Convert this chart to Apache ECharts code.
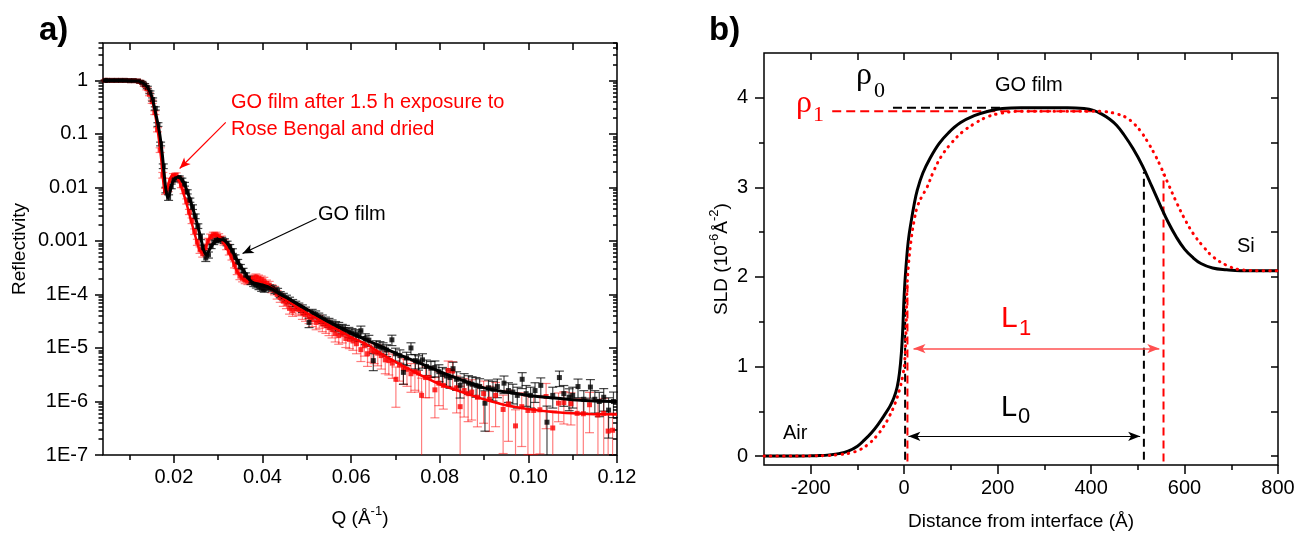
<!DOCTYPE html>
<html><head><meta charset="utf-8">
<script src="https://cdn.jsdelivr.net/npm/echarts@6/dist/echarts.min.js"></script>
<style>html,body{margin:0;padding:0;background:#fff}#c{width:1299px;height:535px}</style>
</head><body><div id="c"></div>
<script>
// ================= Panel a) : reflectivity =================
const qTicks = [0.02, 0.04, 0.06, 0.08, 0.10, 0.12];
const qTickLabels = ['0.02', '0.04', '0.06', '0.08', '0.10', '0.12'];
const qMinorTicks = [0.01, 0.03, 0.05, 0.07, 0.09, 0.11];
const rTicks = [1e-7, 1e-6, 1e-5, 1e-4, 1e-3, 1e-2, 1e-1, 1];
const rTickLabels = ['1E-7', '1E-6', '1E-5', '1E-4', '0.001', '0.01', '0.1', '1'];

// fitted curves [Q, R]
const goFit = [[0.004,1],[0.008,1],[0.011,0.99],[0.012,0.97],[0.013,0.9],[0.014,0.75],[0.015,0.5],[0.016,0.22],[0.0168,0.1],[0.0174,0.04],[0.0178,0.018],[0.0182,0.009],[0.0186,0.0065],[0.019,0.0075],[0.0195,0.011],[0.020,0.014],[0.0208,0.0155],[0.0215,0.015],[0.0222,0.0125],[0.023,0.0085],[0.024,0.0048],[0.025,0.0025],[0.026,0.0012],[0.0268,0.00065],[0.0274,0.00055],[0.028,0.00068],[0.029,0.00092],[0.030,0.00106],[0.031,0.00105],[0.032,0.00092],[0.033,0.0007],[0.034,0.00048],[0.035,0.00034],[0.036,0.00026],[0.037,0.00019],[0.038,0.000165],[0.040,0.00015],[0.042,0.00013],[0.044,0.0001],[0.046,0.000082],[0.048,0.000066],[0.050,0.000053],[0.053,0.000038],[0.056,0.000028],[0.060,0.000019],[0.064,0.0000135],[0.068,0.0000095],[0.072,0.0000068],[0.076,0.000005],[0.080,0.0000036],[0.085,0.0000025],[0.090,0.0000018],[0.095,0.0000015],[0.100,0.0000013],[0.105,0.00000118],[0.110,0.00000108],[0.115,0.00000102],[0.120,0.000001]];
const rbFit = [[0.004,1],[0.008,1],[0.011,0.99],[0.012,0.97],[0.013,0.9],[0.014,0.72],[0.015,0.45],[0.016,0.18],[0.0167,0.07],[0.0172,0.03],[0.0176,0.013],[0.018,0.008],[0.0185,0.0095],[0.019,0.0135],[0.0197,0.017],[0.0205,0.0165],[0.0212,0.013],[0.022,0.0085],[0.023,0.0045],[0.024,0.0022],[0.025,0.0011],[0.0258,0.00068],[0.0265,0.0006],[0.0272,0.00078],[0.028,0.0011],[0.029,0.0013],[0.030,0.00125],[0.031,0.001],[0.032,0.00072],[0.033,0.00048],[0.034,0.0003],[0.035,0.00022],[0.036,0.000185],[0.038,0.00018],[0.040,0.00017],[0.042,0.000135],[0.044,0.000095],[0.046,0.000072],[0.048,0.000056],[0.050,0.000045],[0.053,0.000033],[0.056,0.000024],[0.060,0.000016],[0.064,0.000011],[0.068,0.0000068],[0.072,0.0000045],[0.076,0.000003],[0.080,0.0000021],[0.085,0.0000015],[0.090,0.0000011],[0.095,0.00000085],[0.100,0.00000072],[0.105,0.00000064],[0.110,0.0000006],[0.115,0.00000058],[0.120,0.00000057]];

// measured points [Q, R, relative error]
const goPoints = [[0.0045,1,0.02],[0.005,1,0.02],[0.006,1,0.02],[0.007,1,0.02],[0.008,1,0.02],[0.009,1,0.02],[0.010,0.99,0.02],[0.011,0.99,0.02],[0.012,0.97,0.03],[0.0128,0.92,0.04],[0.0134,0.83,0.05],[0.0140,0.74,0.05],[0.0146,0.6,0.06],[0.0152,0.44,0.07],[0.0158,0.3,0.07],[0.0164,0.15,0.08],[0.0170,0.065,0.08],[0.0176,0.025,0.1],[0.0182,0.009,0.12],[0.0188,0.0065,0.12],[0.0194,0.0105,0.1],[0.0200,0.0138,0.08],[0.0206,0.0152,0.08],[0.0212,0.0152,0.08],[0.0218,0.0138,0.08],[0.0224,0.0115,0.08],[0.0230,0.0083,0.09],[0.0236,0.0058,0.09],[0.0242,0.0043,0.1],[0.0248,0.0029,0.1],[0.0254,0.0019,0.1],[0.0260,0.0012,0.12],[0.0266,0.00075,0.12],[0.0272,0.00048,0.14],[0.0278,0.00055,0.13],[0.0284,0.0008,0.1],[0.0290,0.00095,0.1],[0.0296,0.00102,0.1],[0.0302,0.00108,0.1],[0.0308,0.00106,0.1],[0.0314,0.001,0.1],[0.0320,0.0009,0.1],[0.0326,0.00078,0.1],[0.0332,0.00065,0.1],[0.0338,0.0005,0.1],[0.0344,0.00041,0.1],[0.0350,0.00033,0.1],[0.0356,0.00028,0.1],[0.0362,0.00023,0.1],[0.0368,0.0002,0.1],[0.0374,0.00017,0.1],[0.0380,0.00016,0.12],[0.0386,0.00015,0.12],[0.0392,0.00014,0.12],[0.0398,0.00013,0.12],[0.0404,0.000125,0.12],[0.0410,0.00014,0.12],[0.0416,0.000135,0.12],[0.0422,0.00013,0.12],[0.0428,0.00012,0.13],[0.0434,0.000115,0.13],[0.0440,0.0001,0.13],[0.0447,0.000092,0.14],[0.0454,0.000085,0.14],[0.0461,0.000078,0.14],[0.0468,0.00007,0.15],[0.0475,0.000065,0.15],[0.0482,0.00006,0.15],[0.0490,0.000055,0.16],[0.0497,0.00005,0.16],[0.0505,0.00003,0.2],[0.0512,0.000045,0.17],[0.0520,0.000042,0.17],[0.0527,0.000038,0.18],[0.0535,0.000035,0.18],[0.0542,0.000032,0.18],[0.0550,0.00003,0.19],[0.0557,0.000028,0.19],[0.0565,0.000026,0.2],[0.0572,0.000025,0.2],[0.0580,0.000023,0.2],[0.0587,0.000022,0.2],[0.0595,0.00002,0.21],[0.0602,0.000019,0.21],[0.0610,0.000018,0.22],[0.0617,0.000017,0.22],[0.0622,0.000021,0.22],[0.0632,0.000015,0.23],[0.0640,0.000014,0.23],[0.0650,0.0000058,0.35],[0.0657,0.000011,0.24],[0.0665,0.0000105,0.25],[0.0672,0.00001,0.25],[0.0680,0.0000092,0.25],[0.0692,0.0000142,0.22],[0.0700,0.0000078,0.27],[0.0710,0.0000072,0.28],[0.0718,0.0000035,0.4],[0.0725,0.0000065,0.28],[0.0735,0.00001,0.25],[0.0745,0.0000058,0.3],[0.0752,0.0000055,0.3],[0.0761,0.000006,0.3],[0.0770,0.0000045,0.32],[0.0780,0.0000042,0.33],[0.0789,0.0000043,0.33],[0.0798,0.0000036,0.35],[0.0806,0.0000032,0.35],[0.0815,0.000003,0.36],[0.0823,0.0000028,0.37],[0.0830,0.0000041,0.32],[0.0838,0.0000026,0.38],[0.0846,0.000002,0.42],[0.0855,0.0000024,0.38],[0.0865,0.0000022,0.38],[0.0873,0.0000021,0.38],[0.0882,0.000002,0.4],[0.0890,0.0000019,0.4],[0.0902,0.00000093,0.7],[0.0910,0.0000018,0.4],[0.0920,0.0000017,0.4],[0.0930,0.0000019,0.38],[0.0945,0.0000022,0.36],[0.0955,0.0000016,0.4],[0.0965,0.0000015,0.4],[0.0975,0.0000013,0.42],[0.0986,0.0000026,0.33],[0.0995,0.0000014,0.42],[0.1005,0.0000013,0.42],[0.1015,0.0000016,0.4],[0.1028,0.000002,0.38],[0.1042,0.00000041,1.0],[0.1055,0.0000013,0.42],[0.1070,0.0000028,0.32],[0.1080,0.0000014,0.42],[0.1092,0.0000012,0.44],[0.1100,0.0000013,0.42],[0.1112,0.0000019,0.38],[0.1125,0.0000011,0.45],[0.1140,0.00000186,0.38],[0.1150,0.0000011,0.45],[0.1160,0.000001,0.48],[0.1170,0.0000012,0.45],[0.1181,0.00000069,0.7],[0.1192,0.000001,0.5]];
const rbPoints = [[0.0045,1,0.02],[0.005,1,0.02],[0.006,1,0.02],[0.007,1,0.02],[0.008,1,0.02],[0.009,1,0.02],[0.010,0.99,0.02],[0.011,0.99,0.02],[0.012,0.97,0.03],[0.0127,0.92,0.04],[0.0133,0.82,0.05],[0.0139,0.7,0.05],[0.0145,0.55,0.06],[0.0151,0.4,0.07],[0.0157,0.25,0.08],[0.0163,0.12,0.09],[0.0169,0.05,0.1],[0.0175,0.017,0.12],[0.0181,0.0085,0.13],[0.0187,0.0095,0.12],[0.0193,0.0135,0.1],[0.0199,0.0165,0.1],[0.0205,0.017,0.1],[0.0211,0.0145,0.1],[0.0217,0.011,0.1],[0.0223,0.0085,0.1],[0.0229,0.0055,0.11],[0.0235,0.0035,0.11],[0.0241,0.0024,0.12],[0.0247,0.0015,0.12],[0.0253,0.00095,0.13],[0.0259,0.00068,0.14],[0.0265,0.00058,0.14],[0.0271,0.00075,0.13],[0.0277,0.001,0.12],[0.0283,0.0012,0.12],[0.0289,0.0013,0.12],[0.0295,0.0013,0.12],[0.0301,0.00122,0.12],[0.0307,0.0011,0.12],[0.0313,0.00095,0.12],[0.0319,0.00078,0.12],[0.0325,0.00062,0.12],[0.0331,0.0005,0.12],[0.0337,0.00036,0.13],[0.0343,0.00027,0.13],[0.0349,0.00022,0.14],[0.0355,0.0002,0.14],[0.0361,0.000185,0.14],[0.0367,0.00018,0.15],[0.0373,0.00019,0.15],[0.0379,0.0002,0.15],[0.0385,0.00021,0.15],[0.0391,0.0002,0.15],[0.0397,0.00019,0.16],[0.0403,0.00018,0.16],[0.0409,0.00016,0.16],[0.0415,0.00015,0.17],[0.0421,0.00013,0.17],[0.0427,0.00012,0.18],[0.0433,0.0001,0.18],[0.0440,0.000088,0.19],[0.0447,0.000075,0.2],[0.0454,0.000068,0.2],[0.0461,0.000055,0.22],[0.0468,0.00005,0.22],[0.0475,0.000055,0.22],[0.0482,0.000052,0.23],[0.0490,0.000045,0.24],[0.0497,0.000042,0.25],[0.0505,0.000038,0.25],[0.0512,0.000034,0.26],[0.0521,0.00003,0.27],[0.0528,0.000032,0.27],[0.0535,0.000028,0.28],[0.0543,0.000026,0.28],[0.0550,0.000024,0.29],[0.0557,0.000022,0.3],[0.0564,0.0000185,0.3],[0.0572,0.000017,0.31],[0.0580,0.000018,0.31],[0.0588,0.000015,0.32],[0.0596,0.0000145,0.33],[0.0604,0.0000135,0.33],[0.0612,0.000012,0.35],[0.0622,0.0000093,0.4],[0.0630,0.000011,0.36],[0.0637,0.0000078,0.42],[0.0645,0.000009,0.4],[0.0652,0.0000085,0.4],[0.0660,0.000008,0.42],[0.0668,0.0000072,0.44],[0.0677,0.000006,0.45],[0.0685,0.0000058,0.46],[0.0693,0.0000052,0.48],[0.0701,0.0000026,0.7],[0.0709,0.0000048,0.5],[0.0718,0.0000042,0.5],[0.0726,0.000004,0.52],[0.0735,0.0000033,0.55],[0.0744,0.0000036,0.55],[0.0752,0.0000034,0.56],[0.0759,0.0000013,1.1],[0.0768,0.0000028,0.58],[0.0776,0.0000028,0.58],[0.0789,0.00000165,0.7],[0.0798,0.0000022,0.62],[0.0808,0.000002,0.64],[0.0819,0.0000038,0.5],[0.0829,0.0000037,0.5],[0.0838,0.0000018,0.66],[0.0846,0.0000008,1.4],[0.0855,0.0000016,0.68],[0.0864,0.0000014,0.7],[0.0872,0.0000015,0.7],[0.0885,0.0000012,0.72],[0.0899,0.0000014,0.72],[0.0912,0.0000011,0.75],[0.0926,0.0000013,0.74],[0.0943,0.00000071,0.85],[0.0955,0.0000009,0.8],[0.0971,0.00000035,1.0],[0.0985,0.0000008,0.82],[0.0999,0.00000068,0.85],[0.1012,0.00000068,0.85],[0.1026,0.0000007,0.85],[0.1040,0.00000124,0.75],[0.1055,0.00000032,1.1],[0.1068,0.00000093,0.55],[0.1080,0.00000095,0.6],[0.1096,0.00000091,0.6],[0.1110,0.0000006,0.88],[0.1124,0.00000059,0.88],[0.1138,0.00000087,0.7],[0.1157,0.00000056,0.9],[0.1170,0.0000006,0.9],[0.1180,0.00000028,1.1],[0.1190,0.00000029,1.1]];

// annotation arrows (tail -> head) in data coordinates
const rbArrow = [[0.0317, 0.164], [0.0213, 0.0226]];
const goArrow = [[0.0522, 0.00263], [0.0355, 0.000584]];

// ================= Panel b) : SLD profile =================
const dTicks = [-200, 0, 200, 400, 600, 800];
const dTickLabels = ['-200', '0', '200', '400', '600', '800'];
const dMinorTicks = [-100, 100, 300, 500, 700];
const dTopTicks = [-200, -100, 0, 100, 200, 300, 400, 500, 600, 700];
const sTicks = [0, 1, 2, 3, 4];
const sTickLabels = ['0', '1', '2', '3', '4'];
const sMinorTicks = [0.5, 1.5, 2.5, 3.5];
const sRightTicks = [0, 0.5, 1, 1.5, 2, 2.5, 3, 3.5, 4];

const goSLD = [[-300,0],[-250,0],[-200,0.002],[-180,0.005],[-160,0.013],[-140,0.027],[-120,0.055],[-100,0.11],[-85,0.18],[-70,0.26],[-55,0.36],[-42,0.46],[-30,0.56],[-22,0.65],[-15,0.77],[-10,0.93],[-6,1.15],[-3,1.42],[0,1.8],[4,2.12],[9,2.41],[15,2.62],[21,2.8],[28,2.97],[40,3.16],[56,3.33],[75,3.49],[95,3.61],[120,3.72],[150,3.8],[180,3.85],[210,3.88],[250,3.89],[300,3.89],[350,3.89],[385,3.88],[405,3.86],[422,3.82],[440,3.76],[455,3.69],[470,3.59],[490,3.43],[510,3.24],[530,3.01],[548,2.8],[565,2.61],[583,2.44],[600,2.31],[617,2.22],[635,2.15],[660,2.1],[690,2.08],[720,2.07],[760,2.07],[800,2.07]];
const rbSLD = [[-300,0],[-250,0],[-200,0.002],[-170,0.005],[-140,0.015],[-115,0.035],[-95,0.07],[-75,0.14],[-58,0.23],[-44,0.33],[-32,0.44],[-20,0.58],[-10,0.74],[-3,0.9],[1,1.05],[4,1.4],[6,1.85],[9,2.12],[15,2.42],[21,2.62],[28,2.78],[38,2.9],[48,2.99],[63,3.18],[80,3.35],[102,3.5],[125,3.62],[150,3.71],[175,3.78],[200,3.82],[250,3.85],[300,3.85],[350,3.85],[400,3.85],[430,3.845],[455,3.82],[475,3.78],[492,3.71],[507,3.62],[522,3.5],[537,3.36],[550,3.22],[565,3.04],[583,2.83],[600,2.65],[619,2.48],[640,2.34],[662,2.22],[690,2.13],[720,2.08],[760,2.07],[800,2.07]];

const rho0Line = [[-24, 3.89], [205, 3.89]];
const rho1Line = [[-154, 3.85], [420, 3.85]];
const L0Edges = [[2, -0.04, 1.85], [513, -0.04, 3.17]];   // [x, yBottom, yTop]
const L1Edges = [[7, -0.06, 1.96], [555, -0.06, 3.15]];
const L0Arrow = [[9, 0.22], [505, 0.22]];
const L1Arrow = [[20, 1.2], [546, 1.2]];

// ================= chart =================
const FONT = 'Liberation Sans';
const RED = '#ff0000';
const TL = {color: '#000', width: 1.5};
function ax(o) {
  return Object.assign({type: 'value', nameMoveOverlap: false,
    axisLine: {show: false, onZero: false}, splitLine: {show: false}, axisLabel: {show: false},
    axisTick: {show: false}, splitArea: {show: false}}, o);
}
function lookup(vals, labels) {
  return function (v) {
    for (let i = 0; i < vals.length; i++) {
      if (Math.abs(vals[i] - v) <= Math.abs(vals[i]) * 1e-6 + 1e-12) return labels[i];
    }
    return '';
  };
}
const lblStyle = {show: true, color: '#000', fontFamily: FONT, fontSize: 20};

const logMinor = [];
for (let k = -7; k <= 0; k++) for (let m = 2; m <= 9; m++) { const v = m * Math.pow(10, k); if (v <= 5) logMinor.push(+v.toPrecision(3)); }

function errBars(color) {
  return function (params, api) {
    const q = api.value(0), r = api.value(1), e = api.value(2);
    const hi = r * (1 + e);
    let lo = r * (1 - e); let clipped = false;
    if (lo < 1e-7) { lo = 1e-7; clipped = true; }
    const p1 = api.coord([q, hi]), p2 = api.coord([q, lo]);
    const hw = 4.5;
    const st = {stroke: color, lineWidth: 1.2};
    const ch = [
      {type: 'line', shape: {x1: p1[0], y1: p1[1], x2: p2[0], y2: p2[1]}, style: st},
      {type: 'line', shape: {x1: p1[0] - hw, y1: p1[1], x2: p1[0] + hw, y2: p1[1]}, style: st}
    ];
    if (!clipped) ch.push({type: 'line', shape: {x1: p2[0] - hw, y1: p2[1], x2: p2[0] + hw, y2: p2[1]}, style: st});
    return {type: 'group', children: ch};
  };
}

const option = {
  animation: false,
  backgroundColor: '#fff',
  grid: [
    {left: 103, top: 43, width: 514, height: 412, show: true, borderColor: '#000', borderWidth: 1.5, containLabel: false, outerBoundsMode: 'none'},
    {left: 764, top: 53, width: 514, height: 412, show: true, borderColor: '#000', borderWidth: 1.5, containLabel: false, outerBoundsMode: 'none'}
  ],
  xAxis: [
    ax({gridIndex: 0, min: 0.004, max: 0.12, position: 'bottom',
      axisTick: {show: true, customValues: qTicks, length: 8, lineStyle: TL},
      axisLabel: Object.assign({}, lblStyle, {customValues: qTicks, formatter: lookup(qTicks, qTickLabels), margin: 12}),
      name: '{a|Q (Å}{s|-1}{a|)}', nameLocation: 'middle', nameGap: 50,
      nameTextStyle: {rich: {a: {fontFamily: FONT, fontSize: 19, color: '#000', lineHeight: 28}, s: {fontFamily: FONT, fontSize: 13, color: '#000', lineHeight: 14, verticalAlign: 'top'}}}}),
    ax({gridIndex: 0, min: 0.004, max: 0.12, position: 'bottom',
      axisTick: {show: true, customValues: qMinorTicks, length: 5, lineStyle: TL}}),
    ax({gridIndex: 0, min: 0.004, max: 0.12, position: 'top',
      axisTick: {show: true, inside: true, customValues: qTicks.concat(qMinorTicks), length: 7, lineStyle: TL}}),
    ax({gridIndex: 1, min: -300, max: 800, position: 'bottom',
      axisTick: {show: true, customValues: dTicks, length: 9, lineStyle: TL},
      axisLabel: Object.assign({}, lblStyle, {customValues: dTicks, formatter: lookup(dTicks, dTickLabels), margin: 13}),
      name: 'Distance from interface (Å)', nameLocation: 'middle', nameGap: 47,
      nameTextStyle: {fontFamily: FONT, fontSize: 19, color: '#000'}}),
    ax({gridIndex: 1, min: -300, max: 800, position: 'bottom',
      axisTick: {show: true, customValues: dMinorTicks, length: 5, lineStyle: TL}}),
    ax({gridIndex: 1, min: -300, max: 800, position: 'top',
      axisTick: {show: true, inside: true, customValues: dTopTicks, length: 7, lineStyle: TL}})
  ],
  yAxis: [
    ax({type: 'log', gridIndex: 0, min: 1e-7, max: 5, position: 'left',
      axisTick: {show: true, customValues: rTicks, length: 8, lineStyle: TL},
      axisLabel: Object.assign({}, lblStyle, {customValues: rTicks, formatter: lookup(rTicks, rTickLabels), margin: 15}),
      name: 'Reflectivity', nameLocation: 'middle', nameGap: 74,
      nameTextStyle: {fontFamily: FONT, fontSize: 19, color: '#000'}}),
    ax({type: 'log', gridIndex: 0, min: 1e-7, max: 5, position: 'left',
      axisTick: {show: true, customValues: logMinor, length: 4.5, lineStyle: TL}}),
    ax({type: 'log', gridIndex: 0, min: 1e-7, max: 5, position: 'right',
      axisTick: {show: true, inside: true, customValues: rTicks, length: 8, lineStyle: TL}}),
    ax({type: 'log', gridIndex: 0, min: 1e-7, max: 5, position: 'right',
      axisTick: {show: true, inside: true, customValues: logMinor, length: 4, lineStyle: TL}}),
    ax({gridIndex: 1, min: -0.1, max: 4.5, position: 'left',
      axisTick: {show: true, customValues: sTicks, length: 9, lineStyle: TL},
      axisLabel: Object.assign({}, lblStyle, {customValues: sTicks, formatter: lookup(sTicks, sTickLabels), margin: 16}),
      name: '{a|SLD (10}{s|-6}{a|Å}{s|-2}{a|)}', nameLocation: 'middle', nameGap: 28,
      nameTextStyle: {rich: {a: {fontFamily: FONT, fontSize: 19, color: '#000', lineHeight: 28}, s: {fontFamily: FONT, fontSize: 13, color: '#000', lineHeight: 14, verticalAlign: 'top'}}}}),
    ax({gridIndex: 1, min: -0.1, max: 4.5, position: 'left',
      axisTick: {show: true, customValues: sMinorTicks, length: 5, lineStyle: TL}}),
    ax({gridIndex: 1, min: -0.1, max: 4.5, position: 'right',
      axisTick: {show: true, inside: true, customValues: sRightTicks, length: 7, lineStyle: TL}})
  ],
  series: [
    {type: 'custom', name: 'RB err', xAxisIndex: 0, yAxisIndex: 0, data: rbPoints, encode: {x: 0, y: 1}, renderItem: errBars('rgba(255,0,0,0.5)'), silent: true},
    {type: 'custom', name: 'GO err', xAxisIndex: 0, yAxisIndex: 0, data: goPoints, encode: {x: 0, y: 1}, renderItem: errBars('rgba(0,0,0,0.72)'), silent: true},
    {type: 'scatter', name: 'RB pts', xAxisIndex: 0, yAxisIndex: 0, data: rbPoints.map(p => [p[0], p[1]]), symbol: 'rect', symbolSize: 5, itemStyle: {color: RED}, silent: true},
    {type: 'scatter', name: 'GO pts', xAxisIndex: 0, yAxisIndex: 0, data: goPoints.map(p => [p[0], p[1]]), symbol: 'rect', symbolSize: 5, itemStyle: {color: '#000'}, silent: true},
    {type: 'line', name: 'RB fit', xAxisIndex: 0, yAxisIndex: 0, data: rbFit, showSymbol: false, smooth: 0.3, lineStyle: {color: RED, width: 2.5}, silent: true},
    {type: 'line', name: 'GO fit', xAxisIndex: 0, yAxisIndex: 0, data: goFit, showSymbol: false, smooth: 0.3, lineStyle: {color: '#000', width: 3}, silent: true,
      markLine: {silent: true, symbol: ['none', 'arrow'], symbolSize: [7, 11], label: {show: false}, animation: false,
        data: [
          [{coord: rbArrow[0], lineStyle: {color: RED, width: 1.2, type: 'solid'}, itemStyle: {color: RED}}, {coord: rbArrow[1]}],
          [{coord: goArrow[0], lineStyle: {color: '#000', width: 1.2, type: 'solid'}, itemStyle: {color: '#000'}}, {coord: goArrow[1]}]
        ]}},
    // panel b
    {type: 'line', xAxisIndex: 3, yAxisIndex: 4, data: rho0Line, showSymbol: false, lineStyle: {color: '#000', width: 2, type: [9, 5]}, silent: true},
    {type: 'line', xAxisIndex: 3, yAxisIndex: 4, data: rho1Line, showSymbol: false, lineStyle: {color: RED, width: 2, type: [9, 5]}, silent: true},
    ...L0Edges.map(e => ({type: 'line', xAxisIndex: 3, yAxisIndex: 4, data: [[e[0], e[1]], [e[0], e[2]]], showSymbol: false, lineStyle: {color: '#000', width: 2, type: [8, 5]}, silent: true})),
    ...L1Edges.map(e => ({type: 'line', xAxisIndex: 3, yAxisIndex: 4, data: [[e[0], e[1]], [e[0], e[2]]], showSymbol: false, lineStyle: {color: RED, width: 2, type: [8, 5]}, silent: true})),
    {type: 'line', name: 'GO SLD', xAxisIndex: 3, yAxisIndex: 4, data: goSLD, showSymbol: false, smooth: 0.4, lineStyle: {color: '#000', width: 3}, silent: true},
    {type: 'line', name: 'RB SLD', xAxisIndex: 3, yAxisIndex: 4, data: rbSLD, showSymbol: false, smooth: 0.4, lineStyle: {color: RED, width: 3, type: [0.5, 6], cap: 'round'}, silent: true,
      markLine: {silent: true, symbol: ['arrow', 'arrow'], symbolSize: [7, 12], label: {show: false}, animation: false,
        data: [
          [{coord: L1Arrow[0], lineStyle: {color: '#ff5050', width: 1.5, type: 'solid'}, itemStyle: {color: '#ff3030'}}, {coord: L1Arrow[1]}],
          [{coord: L0Arrow[0], lineStyle: {color: '#000', width: 1.2, type: 'solid'}, itemStyle: {color: '#000'}}, {coord: L0Arrow[1]}]
        ]}}
  ],
  graphic: [
    {type: 'text', x: 39, y: 31, style: {text: 'a)', font: 'bold 33px "Liberation Sans"', fill: '#000', verticalAlign: 'middle'}},
    {type: 'text', x: 709, y: 31, style: {text: 'b)', font: 'bold 33px "Liberation Sans"', fill: '#000', verticalAlign: 'middle'}},
    {type: 'text', x: 231, y: 102, style: {text: 'GO film after 1.5 h exposure to', font: '20px "Liberation Sans"', fill: RED, verticalAlign: 'middle'}},
    {type: 'text', x: 231, y: 129, style: {text: 'Rose Bengal and dried', font: '20px "Liberation Sans"', fill: RED, verticalAlign: 'middle'}},
    {type: 'text', x: 318, y: 214, style: {text: 'GO film', font: '20px "Liberation Sans"', fill: '#000', verticalAlign: 'middle'}},
    {type: 'text', x: 995, y: 85, style: {text: 'GO film', font: '20px "Liberation Sans"', fill: '#000', verticalAlign: 'middle'}},
    {type: 'text', x: 1237, y: 246, style: {text: 'Si', font: '20px "Liberation Sans"', fill: '#000', verticalAlign: 'middle'}},
    {type: 'text', x: 783, y: 433, style: {text: 'Air', font: '20px "Liberation Sans"', fill: '#000', verticalAlign: 'middle'}},
    {type: 'text', x: 856, y: 76, style: {text: 'ρ', font: '32px "Liberation Serif"', fill: '#000', verticalAlign: 'middle'}},
    {type: 'text', x: 874, y: 91, style: {text: '0', font: '22px "Liberation Serif"', fill: '#000', verticalAlign: 'middle'}},
    {type: 'text', x: 796, y: 104, style: {text: 'ρ', font: '32px "Liberation Serif"', fill: RED, verticalAlign: 'middle'}},
    {type: 'text', x: 813, y: 115, style: {text: '1', font: '22px "Liberation Serif"', fill: RED, verticalAlign: 'middle'}},
    {type: 'text', x: 1001, y: 319, style: {text: 'L', font: '30px "Liberation Sans"', fill: RED, verticalAlign: 'middle'}},
    {type: 'text', x: 1019, y: 329, style: {text: '1', font: '22px "Liberation Sans"', fill: RED, verticalAlign: 'middle'}},
    {type: 'text', x: 1001, y: 408, style: {text: 'L', font: '29px "Liberation Sans"', fill: '#000', verticalAlign: 'middle'}},
    {type: 'text', x: 1018, y: 417, style: {text: '0', font: '22px "Liberation Sans"', fill: '#000', verticalAlign: 'middle'}}
  ]
};
const chart = echarts.init(document.getElementById('c'), null, {renderer: 'canvas', width: 1299, height: 535});
chart.setOption(option);
</script>
</body></html>
